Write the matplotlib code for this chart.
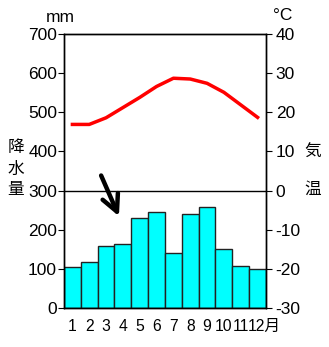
import matplotlib
matplotlib.use('Agg')
import matplotlib.pyplot as plt
import matplotlib.transforms as mtransforms
import numpy as np

plt.rcParams['font.family'] = ['Liberation Sans', 'Noto Sans CJK JP']
plt.rcParams['axes.unicode_minus'] = False

# Data
months = np.arange(1, 13)
month_labels = ['1', '2', '3', '4', '5', '6', '7', '8', '9', '10', '11', '12月']
precip_mm = [104, 118, 159, 164, 229, 245, 140, 240, 258, 151, 108, 100]
temp_c = [16.9, 16.9, 18.6, 21.2, 23.8, 26.6, 28.7, 28.5, 27.4, 25.1, 21.9, 18.7]

fig = plt.figure(figsize=(3.29, 3.47), dpi=100)
ax = fig.add_axes([0.1945, 0.1124, 0.614, 0.7896])

ax.bar(months, precip_mm, width=1.0, color='#00FFFF', edgecolor='#222222',
       linewidth=1.0, zorder=2)
ax.axhline(300, color='black', lw=1.0, zorder=1)
ax.set_xlim(0.5, 12.5)
ax.set_ylim(0, 700)
ax.set_yticks(range(0, 701, 100))
ax.set_xticks(months)
ax.set_xticklabels(month_labels, fontsize=11.3)
ax.tick_params(axis='x', length=0, pad=8)
ax.tick_params(axis='y', direction='out', length=4, labelsize=12.5, pad=1)

# keep "12" centred on its bar, with 月 hanging to the right
last = ax.get_xticklabels()[-1]
last.set_transform(last.get_transform() +
                   mtransforms.ScaledTranslation(7 / 100, 0, fig.dpi_scale_trans))

ax2 = ax.twinx()
ax2.plot(months, temp_c, color='#FF0000', lw=2.5, zorder=3)
ax2.set_ylim(-30, 40)
ax2.set_yticks(range(-30, 41, 10))
ax2.tick_params(axis='y', direction='out', length=4, labelsize=12.5, pad=3)

for a in (ax, ax2):
    for s in a.spines.values():
        s.set_linewidth(1.0)

# arrow
ax.annotate('', xy=(3.83, 228), xytext=(2.64, 345),
            arrowprops=dict(arrowstyle='->,head_length=1.2,head_width=0.6',
                            color='black', lw=3.2))

# unit and axis labels
fig.text(60 / 329, 1 - 17 / 347, 'mm', fontsize=12.5, ha='center', va='center')
fig.text(283 / 329, 1 - 16 / 347, '°C', fontsize=12.5, ha='center', va='center')
for ch, yy in zip('降水量', [148, 169, 190]):
    fig.text(16 / 329, 1 - yy / 347, ch, fontsize=12, ha='center', va='center')
for ch, yy in zip('気温', [152, 189]):
    fig.text(313 / 329, 1 - yy / 347, ch, fontsize=12, ha='center', va='center')

fig.savefig('out.png', dpi=100, facecolor='white')
